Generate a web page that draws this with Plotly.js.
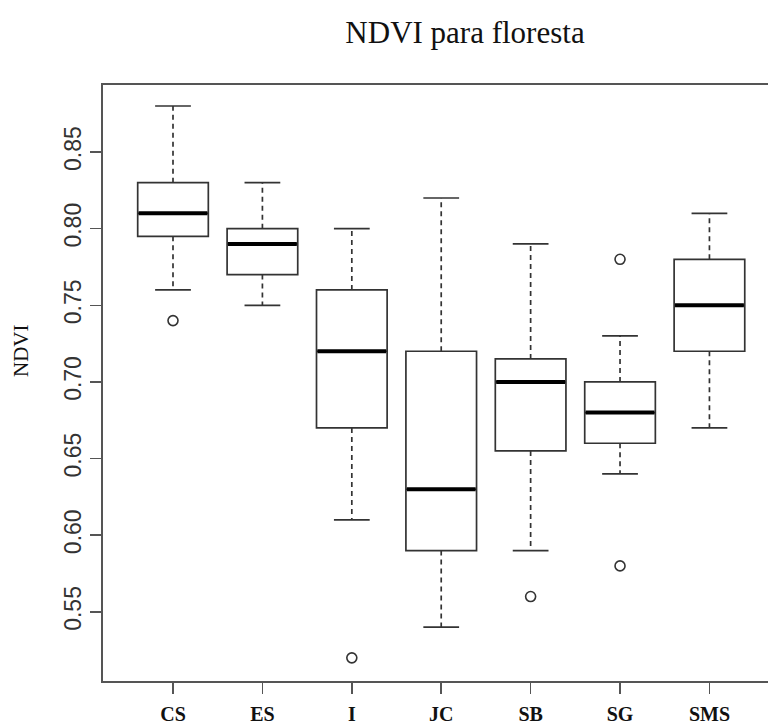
<!DOCTYPE html>
<html>
<head>
<meta charset="utf-8">
<script src="https://cdn.plot.ly/plotly-3.0.1.min.js"></script>
<style>html,body{margin:0;padding:0;background:#fff;}#chart{width:768px;height:727px;}</style>
</head>
<body>
<div id="chart"></div>
<script>
const categories = ['CS', 'ES', 'I', 'JC', 'SB', 'SG', 'SMS'];
const lowerWhisker = [0.76, 0.75, 0.61, 0.54, 0.59, 0.64, 0.67];
const q1Values = [0.795, 0.77, 0.67, 0.59, 0.655, 0.66, 0.72];
const medianValues = [0.81, 0.79, 0.72, 0.63, 0.70, 0.68, 0.75];
const q3Values = [0.83, 0.80, 0.76, 0.72, 0.715, 0.70, 0.78];
const upperWhisker = [0.88, 0.83, 0.80, 0.82, 0.79, 0.73, 0.81];
const outlierCategories = ['CS', 'I', 'SB', 'SG', 'SG'];
const outlierValues = [0.74, 0.52, 0.56, 0.78, 0.58];
const yTicks = [0.55, 0.60, 0.65, 0.70, 0.75, 0.80, 0.85];

const idx = categories.map((c, i) => i);
const boxW = 0.79, capHalf = 0.2;
const lineCol = '#333';

// whisker stems
const wx = [], wy = [];
idx.forEach(i => {
  wx.push(i, i, null, i, i, null);
  wy.push(q3Values[i], upperWhisker[i], null, q1Values[i], lowerWhisker[i], null);
});
// caps
const cx = [], cy = [];
idx.forEach(i => {
  cx.push(i - capHalf, i + capHalf, null, i - capHalf, i + capHalf, null);
  cy.push(upperWhisker[i], upperWhisker[i], null, lowerWhisker[i], lowerWhisker[i], null);
});
// medians
const mx = [], my = [];
idx.forEach(i => {
  mx.push(i - boxW / 2 + 0.01, i + boxW / 2 - 0.01, null);
  my.push(medianValues[i], medianValues[i], null);
});

const traces = [
  {type: 'scatter', mode: 'lines', x: wx, y: wy, line: {color: lineCol, width: 1.7, dash: '5px,4px'}, hoverinfo: 'skip', showlegend: false},
  {type: 'scatter', mode: 'lines', x: cx, y: cy, line: {color: lineCol, width: 1.7}, hoverinfo: 'skip', showlegend: false},
  {type: 'box', x: idx, q1: q1Values, median: medianValues, q3: q3Values,
   lowerfence: q1Values, upperfence: q3Values, width: boxW, whiskerwidth: 0,
   fillcolor: 'rgba(255,255,255,0)', line: {color: lineCol, width: 1.7}, boxpoints: false,
   hoverinfo: 'skip', showlegend: false},
  {type: 'scatter', mode: 'lines', x: mx, y: my, line: {color: '#000', width: 4}, hoverinfo: 'skip', showlegend: false},
  {type: 'scatter', mode: 'markers', x: outlierCategories.map(c => categories.indexOf(c)), y: outlierValues,
   marker: {symbol: 'circle-open', size: 10, color: lineCol, line: {width: 1.6, color: lineCol}}, hoverinfo: 'skip', showlegend: false}
];

const layout = {
  width: 768, height: 727,
  margin: {l: 103, r: 0, t: 85, b: 46},
  paper_bgcolor: '#fff', plot_bgcolor: '#fff',
  showlegend: false,
  title: {text: 'NDVI para floresta', font: {family: 'Liberation Serif, Times New Roman, serif', size: 31, color: '#111'},
          x: 465 / 768, xanchor: 'center', xref: 'container', y: 1 - 32 / 727, yanchor: 'middle', yref: 'container'},
  xaxis: {range: [-0.783, 6.655], tickmode: 'array', tickvals: idx, ticktext: categories,
          showgrid: false, zeroline: false, showline: true, linecolor: '#555', linewidth: 2, mirror: true,
          ticks: 'outside', ticklen: 11, tickwidth: 1.5, tickcolor: '#555', ticklabelstandoff: 3,
          tickfont: {family: 'Liberation Serif, Times New Roman, serif', size: 20, color: '#111', weight: 'bold'}},
  yaxis: {range: [0.5049, 0.8937], tickmode: 'array', tickvals: yTicks, ticktext: yTicks.map(v => v.toFixed(2)),
          showgrid: false, zeroline: false, showline: true, linecolor: '#555', linewidth: 2, mirror: false,
          ticks: 'outside', ticklen: 11, tickwidth: 1.5, tickcolor: '#555', tickangle: -90,
          tickfont: {family: 'Liberation Sans Narrow, Arial Narrow, Liberation Sans, sans-serif', size: 23, color: '#333'}},
  annotations: [{text: 'NDVI', xref: 'paper', yref: 'paper', x: (21 - 103) / 665, y: (681 - 351) / 596,
                 xanchor: 'center', yanchor: 'middle', showarrow: false, textangle: -90,
                 font: {family: 'Liberation Serif, Times New Roman, serif', size: 21, color: '#111'}}]
};

Plotly.newPlot('chart', traces, layout, {displayModeBar: false, staticPlot: true});
</script>
</body>
</html>
